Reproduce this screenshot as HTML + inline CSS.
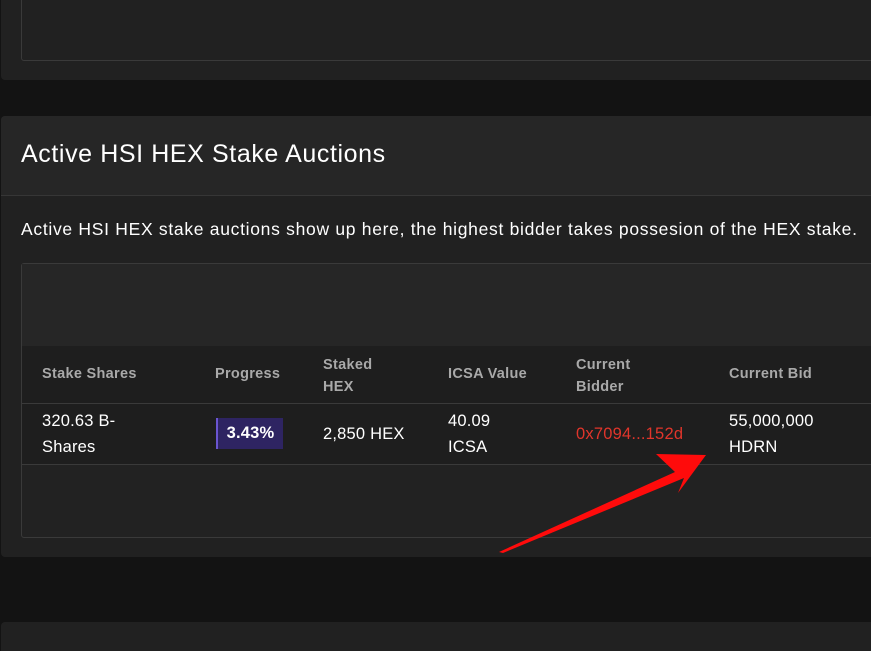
<!DOCTYPE html>
<html><head><meta charset="utf-8"><style>
html,body{margin:0;width:871px;height:651px;overflow:hidden}
body{background:#131313;position:relative;font-family:"Liberation Sans",sans-serif;color:#fff}
.abs{position:absolute}
</style></head><body>
<div class="abs" style="left:1px;top:-5px;width:880px;height:85px;background:#212121;border-radius:4px">
 <div class="abs" style="left:20px;top:0;width:860px;height:64px;border:1px solid #3a3a3a;border-radius:3px"></div>
</div>
<div class="abs" style="left:1px;top:116px;width:880px;height:441px;background:#212121;border-radius:4px">
 <div class="abs" style="left:0;top:0;width:880px;height:79px;background:#262626;border-bottom:1px solid #363636;border-radius:4px 4px 0 0"></div>
 <div class="abs" style="left:20px;top:24px;font-size:25px;letter-spacing:0.6px">Active HSI HEX Stake Auctions</div>
 <div class="abs" style="left:20px;top:103px;font-size:17.5px;letter-spacing:0.7px;white-space:nowrap">Active HSI HEX stake auctions show up here, the highest bidder takes possesion of the HEX stake.</div>
 <div class="abs" style="left:20px;top:147px;width:860px;height:273px;border:1px solid #3a3a3a;border-radius:3px;background:#222">
  <div class="abs" style="left:0;top:0;width:860px;height:82px;background:#262626"></div>
  <div class="abs" style="left:0;top:82px;width:860px;height:57px;background:#1e1e1e;border-bottom:1px solid #3a3a3a;color:#a9a9a9;font-weight:bold;font-size:14.5px;letter-spacing:0.3px">
   <div class="abs" style="left:20px;top:20px">Stake Shares</div>
   <div class="abs" style="left:193px;top:20px">Progress</div>
   <div class="abs" style="left:301px;top:8px;line-height:22px">Staked<br>HEX</div>
   <div class="abs" style="left:426px;top:20px">ICSA Value</div>
   <div class="abs" style="left:554px;top:8px;line-height:22px">Current<br>Bidder</div>
   <div class="abs" style="left:707px;top:20px">Current Bid</div>
  </div>
  <div class="abs" style="left:0;top:140px;width:860px;height:60px;background:#1e1e1e;border-bottom:1px solid #3a3a3a;font-size:16.5px;letter-spacing:0.2px;line-height:26px">
   <div class="abs" style="left:20px;top:4px">320.63 B-<br>Shares</div>
   <div class="abs" style="left:194px;top:14px;width:65px;height:31px;background:#2e2462;border-left:2px solid #6a55d0;font-weight:bold;line-height:31px;text-align:center;font-size:16.5px">3.43%</div>
   <div class="abs" style="left:301px;top:17px">2,850 HEX</div>
   <div class="abs" style="left:426px;top:4px">40.09<br>ICSA</div>
   <div class="abs" style="left:554px;top:17px;color:#e0352b">0x7094...152d</div>
   <div class="abs" style="left:707px;top:4px">55,000,000<br>HDRN</div>
  </div>
 </div>
</div>
<div class="abs" style="left:1px;top:622px;width:880px;height:40px;background:#212121;border-radius:4px"></div>
<svg class="abs" style="left:0;top:0" width="871" height="651">
 <polygon points="499,552 675,472 656,454 706,455 678,493 684,478 503,553" fill="#ff0b0b"/>
</svg>
</body></html>
